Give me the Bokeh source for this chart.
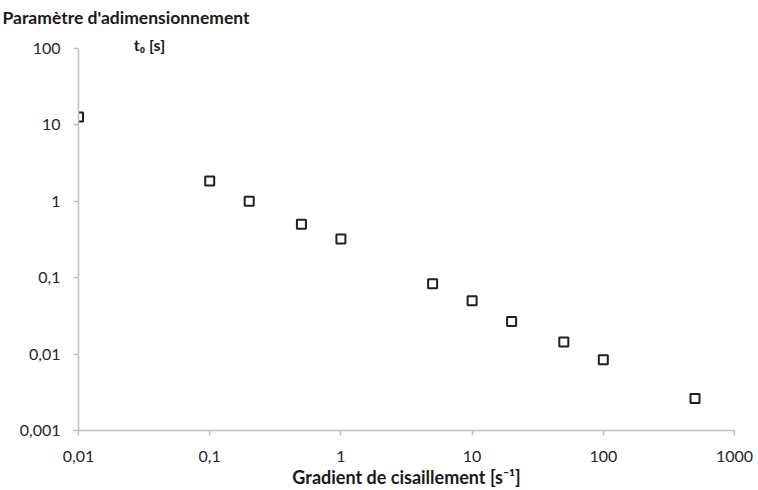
from bokeh.plotting import figure
from bokeh.models import FixedTicker, CustomJSTickFormatter, Label, Range1d, Title
from bokeh.embed import file_html
from bokeh.resources import INLINE

shear_rate = [0.01, 0.1, 0.2, 0.5, 1, 5, 10, 20, 50, 100, 500]
t0 = [12.7, 1.84, 1.0, 0.50, 0.32, 0.083, 0.050, 0.0267, 0.0144, 0.00845, 0.00262]
x_ticks = [0.01, 0.1, 1, 10, 100, 1000]
y_ticks = [0.001, 0.01, 0.1, 1, 10, 100]

y_title_1 = "Paramètre d'adimensionnement"
y_title_2 = "t₀ [s]"
x_title = "Gradient de cisaillement [s⁻¹]"

FONT = "Lato"
AXIS_COLOR = "#bfbfbf"
TEXT_COLOR = "#262626"

# frame extends 18 px above the "100" tick so that the t0 label is not clipped
y_top = 10 ** 2.235

p = figure(width=758, height=490, x_axis_type="log", y_axis_type="log",
           x_range=Range1d(min(x_ticks), max(x_ticks)),
           y_range=Range1d(min(y_ticks), y_top),
           output_backend="svg", toolbar_location=None,
           min_border_left=78, min_border_right=24,
           min_border_top=30, min_border_bottom=59)
p.outline_line_color = None
p.grid.visible = False
p.background_fill_color = "white"
p.border_fill_color = "white"

fmt = CustomJSTickFormatter(code="return String(tick).replace('.', ',');")
for ax, ticks in ((p.xaxis[0], x_ticks), (p.yaxis[0], y_ticks)):
    ax.ticker = FixedTicker(ticks=ticks, minor_ticks=[])
    ax.formatter = fmt
    ax.axis_line_color = AXIS_COLOR
    ax.axis_line_width = 1.5
    ax.major_tick_line_color = AXIS_COLOR
    ax.major_tick_line_width = 1.5
    ax.major_tick_out = 5
    ax.major_tick_in = 0
    ax.minor_tick_line_color = None
    ax.major_label_text_font = FONT
    ax.major_label_text_font_size = "16px"
    ax.major_label_text_color = TEXT_COLOR

p.yaxis.bounds = (min(y_ticks), max(y_ticks))
p.xaxis.major_label_standoff = 15
p.yaxis.major_label_standoff = 13

p.xaxis.axis_label = x_title
p.xaxis.axis_label_text_font = FONT
p.xaxis.axis_label_text_font_size = "18px"
p.xaxis.axis_label_text_font_style = "bold"
p.xaxis.axis_label_text_color = "#1a1a1a"
p.xaxis.axis_label_standoff = 1

p.scatter(shear_rate, t0, marker="square", size=9, fill_color="white",
          line_color="#1f1f1f", line_width=2)

p.add_layout(Title(text=y_title_1, align="left", offset=-76, standoff=6,
                   text_font=FONT, text_font_size="17.5px", text_font_style="bold",
                   text_color="#1a1a1a"), "above")
p.add_layout(Label(x=71, y=386, x_units="screen", y_units="screen", text=y_title_2,
                   text_align="center", text_baseline="middle", text_font=FONT,
                   text_font_size="16px", text_font_style="bold", text_color="#1a1a1a"))

open("out.html", "w").write(file_html(p, INLINE))
